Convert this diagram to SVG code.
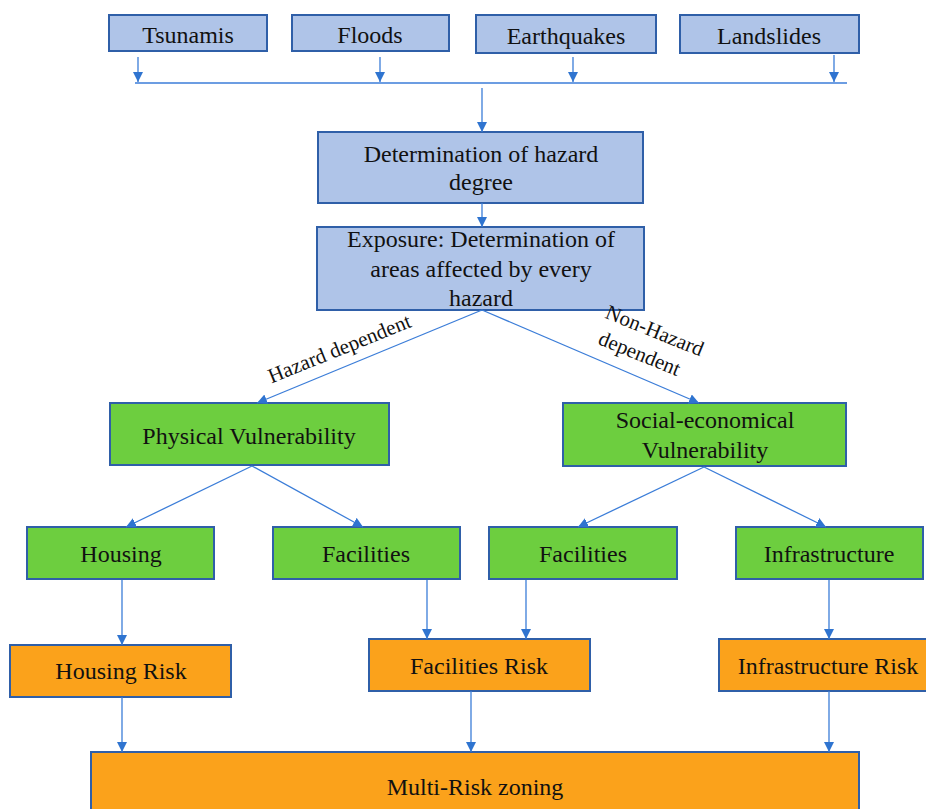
<svg xmlns="http://www.w3.org/2000/svg" width="926" height="809" viewBox="0 0 926 809">
<style>
.b{fill:#AFC4E8;stroke:#2F5FA8;stroke-width:2}
.g{fill:#6DCE3F;stroke:#2F5FA8;stroke-width:2}
.o{fill:#FBA21B;stroke:#2F5FA8;stroke-width:2}
text{font-family:"Liberation Serif","DejaVu Serif",serif;font-size:24px;fill:#111;text-anchor:middle}
.lbl{font-size:21px}
.c line{stroke:#3B7DD8;stroke-width:1.3;fill:none}
.c line.a{marker-end:url(#ah)}
</style>
<defs>
<marker id="ah" viewBox="0 0 10 10" refX="10" refY="5" markerWidth="10" markerHeight="10" markerUnits="userSpaceOnUse" orient="auto">
<path d="M0,0 L10,5 L0,10 z" fill="#2F74D0"/>
</marker>
</defs>
<g id="tsunamis"><rect class="b" x="109" y="15" width="158" height="36"/><text x="188" y="43">Tsunamis</text></g>
<g id="floods"><rect class="b" x="292" y="15" width="157" height="36"/><text x="370" y="43">Floods</text></g>
<g id="earthquakes"><rect class="b" x="476" y="15" width="180" height="38"/><text x="566" y="44">Earthquakes</text></g>
<g id="landslides"><rect class="b" x="680" y="15" width="179" height="38"/><text x="769" y="44">Landslides</text></g>
<g id="hazard-degree"><rect class="b" x="318" y="132" width="325" height="71"/><text x="481" y="162">Determination  of hazard</text><text x="481" y="190">degree</text></g>
<g id="exposure"><rect class="b" x="317" y="227" width="327" height="83"/><text x="481" y="247">Exposure: Determination of</text><text x="481" y="277">areas affected by every</text><text x="481" y="306">hazard</text></g>
<g id="physical"><rect class="g" x="110" y="403" width="279" height="62"/><text x="249" y="444">Physical  Vulnerability</text></g>
<g id="social"><rect class="g" x="563" y="403" width="283" height="63"/><text x="705" y="428">Social-economical</text><text x="705" y="458">Vulnerability</text></g>
<g id="housing"><rect class="g" x="27" y="527" width="187" height="52"/><text x="121" y="562">Housing</text></g>
<g id="facilities1"><rect class="g" x="273" y="527" width="187" height="52"/><text x="366" y="562">Facilities</text></g>
<g id="facilities2"><rect class="g" x="489" y="527" width="188" height="52"/><text x="583" y="562">Facilities</text></g>
<g id="infrastructure"><rect class="g" x="736" y="527" width="187" height="52"/><text x="829" y="562">Infrastructure</text></g>
<g id="housing-risk"><rect class="o" x="10" y="645" width="221" height="52"/><text x="121" y="679">Housing  Risk</text></g>
<g id="facilities-risk"><rect class="o" x="369" y="639" width="221" height="52"/><text x="479" y="674">Facilities Risk</text></g>
<g id="infrastructure-risk"><rect class="o" x="719" y="639" width="220" height="52"/><text x="828" y="674">Infrastructure  Risk</text></g>
<g id="multi-risk"><rect class="o" x="91" y="752" width="768" height="70"/><text x="475" y="795">Multi-Risk  zoning</text></g>
<g class="c" id="connectors">
<line class="a" x1="138" y1="57" x2="138" y2="82"/>
<line class="a" x1="380" y1="57" x2="380" y2="82"/>
<line class="a" x1="573" y1="57" x2="573" y2="82"/>
<line class="a" x1="834" y1="55" x2="834" y2="82"/>
<line x1="135" y1="83" x2="847" y2="83"/>
<line class="a" x1="482" y1="88" x2="482" y2="132"/>
<line class="a" x1="482" y1="203" x2="482" y2="227"/>
<line class="a" x1="482" y1="310" x2="257" y2="403"/>
<line class="a" x1="482" y1="310" x2="699" y2="403"/>
<line class="a" x1="252" y1="466" x2="126" y2="527"/>
<line class="a" x1="252" y1="466" x2="363" y2="527"/>
<line class="a" x1="704" y1="467" x2="578" y2="527"/>
<line class="a" x1="704" y1="467" x2="826" y2="527"/>
<line class="a" x1="122" y1="580" x2="122" y2="645"/>
<line class="a" x1="427" y1="580" x2="427" y2="639"/>
<line class="a" x1="526" y1="580" x2="526" y2="639"/>
<line class="a" x1="829" y1="580" x2="829" y2="639"/>
<line class="a" x1="122" y1="697" x2="122" y2="752"/>
<line class="a" x1="471" y1="691" x2="471" y2="752"/>
<line class="a" x1="829" y1="691" x2="829" y2="752"/>
</g>
<text class="lbl" transform="translate(342,355) rotate(-22)">Hazard dependent</text>
<text class="lbl" transform="translate(652,337) rotate(22)">Non-Hazard</text>
<text class="lbl" transform="translate(637,360) rotate(22)">dependent</text>
</svg>
